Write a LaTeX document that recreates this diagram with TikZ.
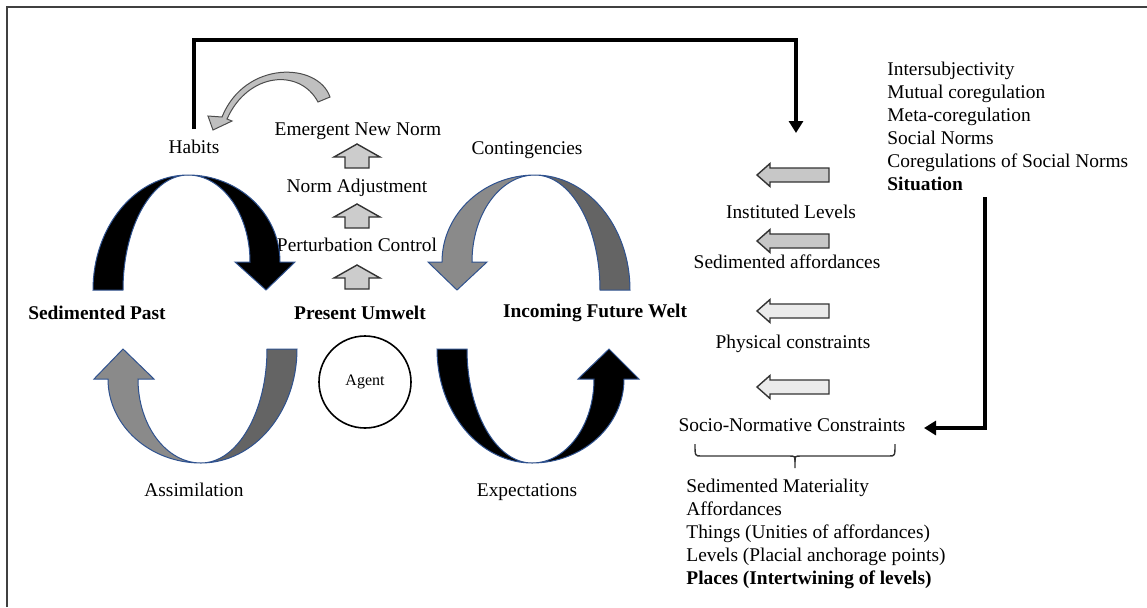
\documentclass[tikz,border=0pt]{standalone}
\usepackage{fontspec}
\setmainfont{Liberation Serif}
\definecolor{arcEdge}{RGB}{47,82,143}
\definecolor{arcLight}{RGB}{138,138,138}
\definecolor{arcDark}{RGB}{100,100,100}
\usetikzlibrary{arrows.meta}

\begin{document}
\begin{tikzpicture}[x=0.5pt, y=-0.5pt,
    every node/.style={font=\fontsize{9.7}{11.5}\selectfont},
    lbl/.style={anchor=base, inner sep=0pt},
    item/.style={anchor=base west, inner sep=0pt},
    blk/.style={draw=arcEdge, line width=0.5pt, fill=black},
    lightarc/.style={draw=arcEdge, line width=0.5pt, fill=arcLight},
    darkarc/.style={draw=arcEdge, line width=0.5pt, fill=arcDark},
    uparrow/.style={draw=black!80, line width=0.7pt, fill=black!20},
    leftarrow/.style={draw=black!80, line width=0.7pt},
    curvarrow/.style={draw=black!70, line width=0.5pt, fill=black!25},
    flowline/.style={line width=2pt, -{Triangle[length=6pt,width=7pt]}}]
  \useasboundingbox (0,0) rectangle (1147,607);
  \draw[line width=0.8pt, black!75] (7,607) -- (7,7) -- (1147,7);

  % labels of the cycle
  \node[lbl] (habits) at (194,153) {Habits};
  \node[lbl] (emerg) at (358,135) {Emergent New Norm};
  \node[lbl] (normadj) at (357,192) {Norm Adjustment};
  \node[lbl] (perturb) at (357,251) {Perturbation Control};
  \node[lbl] (conting) at (527,154) {Contingencies};
  \node[lbl] (past) at (97,319) {\textbf{Sedimented Past}};
  \node[lbl] (present) at (360,319) {\textbf{Present Umwelt}};
  \node[lbl] (future) at (595,317) {\textbf{Incoming Future Welt}};
  \node[lbl] (assim) at (194,496) {Assimilation};
  \node[lbl] (expect) at (527,496) {Expectations};
  \node[draw, circle, line width=0.8pt, minimum size=46pt, inner sep=0pt,
        font=\fontsize{8}{9}\selectfont] (agent) at (365,382) {Agent};

  % upper left arch (black)
  \draw[blk] (93,290) arc[start angle=180, end angle=270, x radius=95, y radius=115]
    arc[start angle=270, end angle=180, x radius=65, y radius=115] -- cycle;
  \draw[blk] (188,175) arc[start angle=270, end angle=360, x radius=92, y radius=87]
    -- (295,262) -- (266,290) -- (235,262) -- (250,262)
    arc[start angle=360, end angle=270, x radius=62, y radius=87] -- cycle;

  % upper right arch (grey)
  \draw[darkarc] (535,175) arc[start angle=270, end angle=360, x radius=95, y radius=115]
    -- (600,290) arc[start angle=360, end angle=270, x radius=65, y radius=115] -- cycle;
  \draw[lightarc] (535,175) arc[start angle=270, end angle=180, x radius=93, y radius=87]
    -- (428,262) -- (457,290) -- (487,262) -- (472,262)
    arc[start angle=180, end angle=270, x radius=63, y radius=87] -- cycle;

  % lower left arch (grey)
  \draw[lightarc] (201,463) arc[start angle=90, end angle=180, x radius=93, y radius=84]
    -- (94,379) -- (123,349) -- (154,379) -- (138,379)
    arc[start angle=180, end angle=90, x radius=63, y radius=84] -- cycle;
  \draw[darkarc] (201,463) arc[start angle=90, end angle=0, x radius=96, y radius=114]
    -- (267,349) arc[start angle=0, end angle=90, x radius=66, y radius=114] -- cycle;

  % lower right arch (black)
  \draw[blk] (532,463) arc[start angle=90, end angle=180, x radius=95, y radius=114]
    -- (467,349) arc[start angle=180, end angle=90, x radius=65, y radius=114] -- cycle;
  \draw[blk] (532,463) arc[start angle=90, end angle=0, x radius=92, y radius=84]
    -- (639,379) -- (609,349) -- (578,379) -- (594,379)
    arc[start angle=0, end angle=90, x radius=62, y radius=84] -- cycle;

  % norm steps
  \foreach \t in {144,204,265}
    \draw[uparrow] (357,\t) -- (380,\t+13) -- (369,\t+13) -- (369,\t+24)
      -- (345,\t+24) -- (345,\t+13) -- (334,\t+13) -- cycle;
  \draw[curvarrow] (330,97) .. controls (318,62) and (245,60) .. (222,117)
    -- (208,116) -- (213,130) -- (232,121) -- (227,119)
    .. controls (248,72) and (300,68) .. (318,102) -- cycle;

  % situation side
  \node[item] (intersub) at (887,75) {Intersubjectivity};
  \node[item] (mutual) at (887,98) {Mutual coregulation};
  \node[item] (meta) at (887,121) {Meta-coregulation};
  \node[item] (socnorm) at (887,144) {Social Norms};
  \node[item] (coreg) at (887,167) {Coregulations of Social Norms};
  \node[item] (situ) at (887,190) {\textbf{Situation}};

  \node[lbl] (inst) at (791,218) {Instituted Levels};
  \node[lbl] (sedaff) at (787,268) {Sedimented affordances};
  \node[lbl] (phys) at (793,348) {Physical constraints};
  \node[lbl] (socio) at (792,431) {Socio-Normative Constraints};

  \foreach \c/\f in {175/black!22, 241/black!22, 311/black!8, 387/black!8}
    \draw[leftarrow, fill=\f] (757,\c) -- (770,\c-11.5) -- (770,\c-7) -- (829,\c-7)
      -- (829,\c+7) -- (770,\c+7) -- (770,\c+11.5) -- cycle;

  % brace under the constraints
  \draw[black!80, line width=0.7pt] (695,444) .. controls (695,456) .. (701,456) -- (789,456)
    .. controls (795,456) .. (795,462) -- (795,468);
  \draw[black!80, line width=0.7pt] (795,462) .. controls (795,456) .. (801,456) -- (889,456)
    .. controls (895,456) .. (895,444);

  \node[item] (sedmat) at (686,492) {Sedimented Materiality};
  \node[item] (afford) at (686,515) {Affordances};
  \node[item] (things) at (686,538) {Things (Unities of affordances)};
  \node[item] (levels) at (686,561) {Levels (Placial anchorage points)};
  \node[item] (places) at (686,584) {\textbf{Places (Intertwining of levels)}};

  % feedback lines
  \coordinate (topbend) at (796,40);
  \coordinate (instin) at (796,133);
  \coordinate (sitdown) at (985,197);
  \coordinate (socin) at (924,428);
  \draw[flowline] ([yshift=5pt]habits.north) |- (topbend) -- (instin);
  \draw[flowline] (sitdown) |- (socin);
\end{tikzpicture}
\end{document}
